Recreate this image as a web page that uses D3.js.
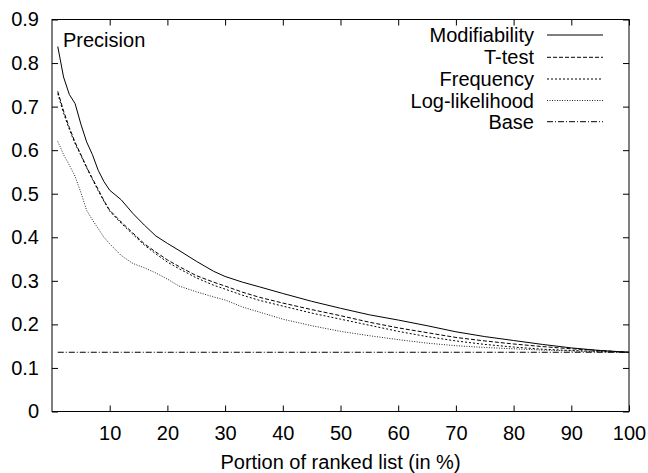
<!DOCTYPE html>
<html>
<head>
<meta charset="utf-8">
<script src="https://cdn.jsdelivr.net/npm/d3@7"></script>
<style>
  html, body { margin: 0; padding: 0; background: #fff; }
  svg { display: block; font-family: "Liberation Sans", Arial, Helvetica, sans-serif; }
</style>
</head>
<body>
<svg id="chart" width="648" height="473"></svg>
<script>
// ---- data ----
const xValues = [1,2,3,4,5,6,7,8,9,10,12,14,16,18,20,22,25,28,30,33,36,40,45,50,55,60,65,70,75,80,85,90,95,100];
const modifiability = [0.838,0.768,0.728,0.707,0.660,0.619,0.590,0.554,0.528,0.508,0.486,0.455,0.428,0.403,0.386,0.370,0.345,0.322,0.310,0.297,0.286,0.271,0.253,0.237,0.222,0.210,0.197,0.183,0.172,0.163,0.154,0.146,0.140,0.136];
const tTest = [0.735,0.690,0.652,0.618,0.590,0.561,0.535,0.510,0.484,0.462,0.435,0.410,0.385,0.366,0.348,0.333,0.312,0.297,0.288,0.274,0.262,0.249,0.234,0.220,0.205,0.192,0.181,0.170,0.162,0.155,0.149,0.144,0.140,0.136];
const frequency = [0.730,0.685,0.648,0.615,0.588,0.560,0.533,0.507,0.483,0.460,0.432,0.407,0.382,0.362,0.343,0.328,0.307,0.290,0.281,0.267,0.255,0.242,0.226,0.212,0.198,0.184,0.172,0.162,0.154,0.148,0.143,0.140,0.138,0.136];
const logLikelihood = [0.620,0.590,0.566,0.540,0.503,0.462,0.440,0.420,0.400,0.385,0.358,0.340,0.330,0.318,0.304,0.288,0.275,0.263,0.256,0.240,0.228,0.212,0.197,0.184,0.174,0.165,0.157,0.151,0.147,0.144,0.141,0.139,0.137,0.136];
const baseX = [1, 100];
const baseValues = [0.136, 0.136];
const seriesNames = ["Modifiability", "T-test", "Frequency", "Log-likelihood", "Base"];
const xTicks = [10,20,30,40,50,60,70,80,90,100];
const yTicks = [0,0.1,0.2,0.3,0.4,0.5,0.6,0.7,0.8,0.9];
const xLabel = "Portion of ranked list (in %)";
const yTitle = "Precision";

// ---- layout ----
const L = 52, R = 629, T = 19.5, B = 411.5;
const svg = d3.select("#chart");
svg.append("rect").attr("width", 648).attr("height", 473).attr("fill", "#fff");

const x = d3.scaleLinear().domain([0, 100]).range([L, R]);
const y = d3.scaleLinear().domain([0, 0.9]).range([B, T]);

const fontSize = 20;

// axes
const gx = svg.append("g").attr("transform", `translate(0,${B})`)
  .call(d3.axisBottom(x).tickValues(xTicks).tickFormat(d3.format("d")).tickSizeInner(-6).tickSizeOuter(0).tickPadding(14));
const gy = svg.append("g").attr("transform", `translate(${L},0)`)
  .call(d3.axisLeft(y).tickValues(yTicks).tickFormat(d => d === 0 ? "0" : d3.format(".1f")(d)).tickSizeInner(-6).tickSizeOuter(0).tickPadding(13));
const gxt = svg.append("g").attr("transform", `translate(0,${T})`)
  .call(d3.axisTop(x).tickValues(xTicks).tickFormat("").tickSizeInner(-6).tickSizeOuter(0));
const gyr = svg.append("g").attr("transform", `translate(${R},0)`)
  .call(d3.axisRight(y).tickValues(yTicks).tickFormat("").tickSizeInner(-6).tickSizeOuter(0));

[gx, gy, gxt, gyr].forEach(g => {
  g.select(".domain").remove();
  g.selectAll("line").attr("stroke", "#000").attr("stroke-width", 1);
  g.selectAll("text").attr("font-size", fontSize).attr("fill", "#000")
    .attr("font-family", "Liberation Sans, Arial, sans-serif");
});

// frame
svg.append("rect").attr("x", L).attr("y", T).attr("width", R - L).attr("height", B - T)
  .attr("fill", "none").attr("stroke", "#000").attr("stroke-width", 1);

// x label
svg.append("text").attr("x", (L + R) / 2).attr("y", 469).attr("text-anchor", "middle")
  .attr("font-size", fontSize).attr("fill", "#000").text(xLabel);

// title inside
svg.append("text").attr("x", 63).attr("y", 47).attr("font-size", fontSize).attr("fill", "#000").text(yTitle);

// series
const styles = [
  { dash: null, color: "#000" },
  { dash: "4,2", color: "#000" },
  { dash: "2,2", color: "#000" },
  { dash: "1,1.5", color: "#222" },
  { dash: "6,2,1,2", color: "#000" }
];
const seriesData = [
  xValues.map((d, i) => [d, modifiability[i]]),
  xValues.map((d, i) => [d, tTest[i]]),
  xValues.map((d, i) => [d, frequency[i]]),
  xValues.map((d, i) => [d, logLikelihood[i]]),
  baseX.map((d, i) => [d, baseValues[i]])
];
const line = d3.line().x(d => x(d[0])).y(d => y(d[1]));

seriesData.forEach((data, i) => {
  svg.append("path").datum(data).attr("d", line)
    .attr("fill", "none").attr("stroke", styles[i].color).attr("stroke-width", 1)
    .attr("stroke-dasharray", styles[i].dash);
});

// legend
const legRowY = [35, 57.3, 79, 100.5, 121.7];
seriesNames.forEach((name, i) => {
  svg.append("text").attr("x", 534).attr("y", legRowY[i] + 7).attr("text-anchor", "end")
    .attr("font-size", fontSize).attr("fill", "#000").text(name);
  svg.append("line").attr("x1", 547).attr("x2", 603).attr("y1", legRowY[i]).attr("y2", legRowY[i])
    .attr("stroke", styles[i].color).attr("stroke-width", 1).attr("stroke-dasharray", styles[i].dash);
});
</script>
</body>
</html>
